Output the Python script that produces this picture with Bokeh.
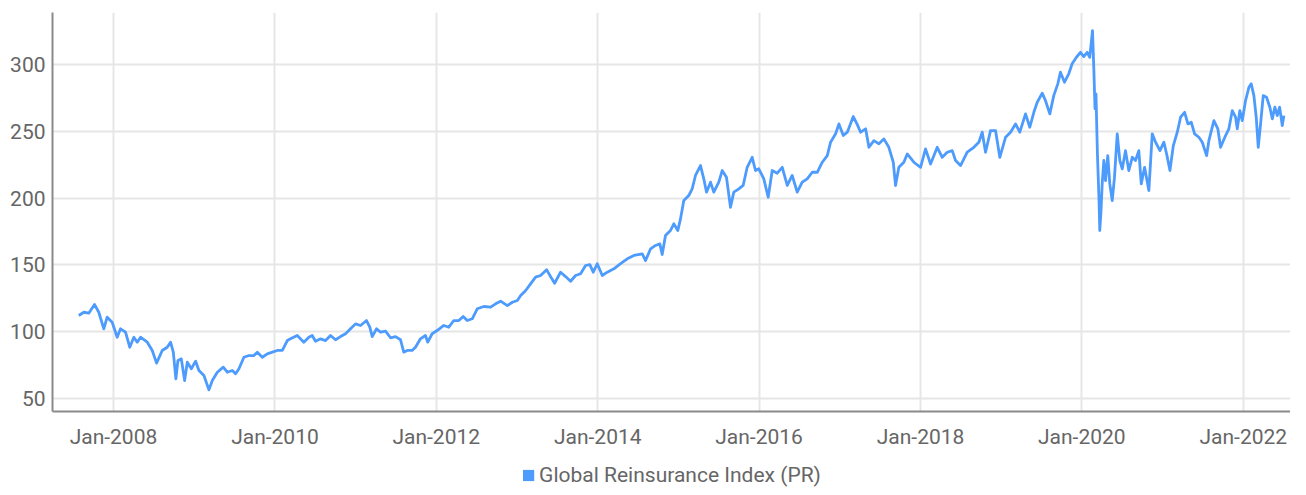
import pandas as pd
from bokeh.plotting import figure
from bokeh.layouts import column
from bokeh.models import (ColumnDataSource, FixedTicker, DatetimeTickFormatter,
                          Legend, LegendItem, Range1d)
from bokeh.embed import file_html
from bokeh.resources import INLINE

# ---------------- data ----------------
series_name = "Global Reinsurance Index (PR)"

years = [
    2007.570, 2007.632, 2007.694, 2007.765, 2007.818, 2007.880, 2007.922, 2007.984,
    2008.046, 2008.087, 2008.149, 2008.202, 2008.252, 2008.294, 2008.335, 2008.418, 2008.480, 2008.533,
    2008.603, 2008.665, 2008.706, 2008.740, 2008.772, 2008.797, 2008.839, 2008.880, 2008.913, 2008.963,
    2009.016, 2009.057, 2009.119, 2009.181, 2009.223, 2009.285, 2009.359, 2009.409, 2009.471, 2009.512,
    2009.553, 2009.615, 2009.677, 2009.739, 2009.781, 2009.843, 2009.905, 2009.967,
    2010.029, 2010.091, 2010.153, 2010.193, 2010.276, 2010.358, 2010.420, 2010.462, 2010.503, 2010.565,
    2010.627, 2010.689, 2010.751, 2010.813, 2010.875, 2010.937, 2010.999,
    2011.061, 2011.135, 2011.176, 2011.206, 2011.259, 2011.309, 2011.371, 2011.433, 2011.495, 2011.557,
    2011.597, 2011.640, 2011.701, 2011.742, 2011.804, 2011.866, 2011.895, 2011.949,
    2012.011, 2012.093, 2012.155, 2012.217, 2012.279, 2012.333, 2012.383, 2012.445, 2012.507, 2012.589,
    2012.672, 2012.734, 2012.796, 2012.879, 2012.941,
    2013.003, 2013.044, 2013.106, 2013.167, 2013.229, 2013.291, 2013.366, 2013.415, 2013.465, 2013.539,
    2013.601, 2013.663, 2013.725, 2013.787, 2013.849, 2013.902, 2013.944, 2013.994,
    2014.056, 2014.118, 2014.200, 2014.283, 2014.366, 2014.448, 2014.552, 2014.593, 2014.655, 2014.716,
    2014.770, 2014.799, 2014.840, 2014.902, 2014.943, 2014.993,
    2015.026, 2015.067, 2015.129, 2015.171, 2015.212, 2015.274, 2015.315, 2015.349, 2015.398, 2015.439,
    2015.501, 2015.543, 2015.596, 2015.646, 2015.687, 2015.749, 2015.803, 2015.853, 2015.915, 2015.956,
    2015.997,
    2016.059, 2016.113, 2016.163, 2016.225, 2016.287, 2016.349, 2016.410, 2016.472, 2016.534, 2016.596,
    2016.658, 2016.720, 2016.782, 2016.844, 2016.885, 2016.947, 2016.988,
    2017.042, 2017.092, 2017.166, 2017.216, 2017.257, 2017.319, 2017.360, 2017.422, 2017.484, 2017.545,
    2017.607, 2017.662, 2017.690, 2017.731, 2017.793, 2017.835, 2017.917,
    2018.000, 2018.062, 2018.124, 2018.207, 2018.269, 2018.331, 2018.393, 2018.434, 2018.496, 2018.579,
    2018.661, 2018.723, 2018.765, 2018.806, 2018.868, 2018.930, 2018.983,
    2019.054, 2019.116, 2019.178, 2019.231, 2019.302, 2019.355, 2019.405, 2019.447, 2019.509, 2019.549,
    2019.603, 2019.652, 2019.702, 2019.735, 2019.785, 2019.838, 2019.880, 2019.933, 2019.983,
    2020.024, 2020.066, 2020.098, 2020.132, 2020.150, 2020.163, 2020.175, 2020.193, 2020.212, 2020.222,
    2020.237, 2020.252, 2020.272, 2020.293, 2020.321, 2020.346, 2020.376, 2020.404, 2020.438, 2020.470,
    2020.500, 2020.540, 2020.581, 2020.624, 2020.664, 2020.705, 2020.735, 2020.776, 2020.829, 2020.871,
    2020.912, 2020.966,
    2021.015, 2021.049, 2021.090, 2021.132, 2021.181, 2021.222, 2021.272, 2021.313, 2021.355, 2021.396,
    2021.449, 2021.491, 2021.545, 2021.573, 2021.635, 2021.684, 2021.718, 2021.780, 2021.821, 2021.863,
    2021.904, 2021.925, 2021.957, 2021.987,
    2022.028, 2022.069, 2022.098, 2022.131, 2022.160, 2022.185, 2022.214, 2022.247, 2022.288, 2022.329,
    2022.359, 2022.391, 2022.421, 2022.450, 2022.483, 2022.503,
]

index_values = [
    112.2, 114.6, 113.9, 120.4, 114.6, 102.2, 110.9, 107.1,
    95.9, 102.2, 99.7, 88.4, 95.9, 92.2, 95.9, 92.2, 86.0, 76.5,
    86.0, 88.4, 92.2, 84.7, 64.7, 78.5, 79.7, 63.5, 77.2, 72.3,
    78.0, 71.0, 67.2, 56.5, 63.5, 69.7, 73.5, 69.7, 71.0, 68.5,
    72.3, 80.9, 82.2, 82.2, 84.7, 80.9, 83.5, 84.7,
    86.0, 86.0, 93.4, 94.7, 97.2, 92.2, 95.9, 97.2, 92.9, 94.7,
    93.4, 97.2, 94.0, 96.4, 98.5, 102.2, 105.9,
    104.7, 108.4, 103.4, 96.4, 102.2, 99.7, 100.4, 95.5, 96.4, 94.0,
    84.7, 86.0, 86.0, 88.4, 94.7, 97.2, 92.2, 98.5,
    100.9, 104.7, 103.4, 108.4, 108.4, 111.4, 108.4, 109.7, 117.2, 118.9,
    118.4, 120.9, 122.9, 119.6, 122.1,
    123.4, 127.1, 130.9, 135.9, 140.9, 142.1, 146.4, 141.3, 136.3, 144.6,
    141.3, 137.8, 142.1, 143.4, 149.6, 150.3, 144.6, 150.9,
    142.1, 144.6, 147.1, 151.0, 154.6, 157.1, 158.3, 153.3, 162.1, 164.6,
    165.8, 157.8, 172.0, 175.8, 180.8, 175.8,
    184.5, 198.2, 202.0, 207.0, 217.0, 224.4, 214.5, 204.5, 212.0, 204.5,
    212.0, 220.7, 215.7, 193.2, 204.5, 207.0, 209.5, 223.1, 230.6, 220.7,
    222.0,
    214.5, 200.7, 220.7, 218.7, 223.1, 209.5, 217.0, 204.5, 212.0, 214.5,
    219.4, 219.4, 226.9, 231.9, 241.9, 248.2, 255.6,
    246.9, 249.4, 261.1, 255.1, 249.4, 251.9, 238.1, 243.1, 240.7, 244.4,
    238.1, 226.9, 209.5, 223.1, 226.9, 233.1, 226.9,
    223.1, 236.9, 225.6, 238.1, 230.6, 234.4, 235.6, 228.2, 224.4, 234.4,
    238.1, 241.9, 249.4, 234.4, 250.6, 250.6, 230.6,
    245.6, 249.4, 255.6, 249.4, 263.1, 253.1, 264.3, 271.8, 278.6, 273.1,
    263.1, 276.8, 285.6, 294.3, 286.8, 293.1, 300.6, 305.5, 309.2,
    306.0, 309.2, 305.5, 325.5, 294.0, 267.0, 278.0, 233.0, 200.0, 175.8,
    190.0, 210.7, 228.2, 213.2, 231.9, 210.7, 198.2, 215.7, 248.2, 228.2,
    221.9, 235.6, 220.7, 230.6, 228.2, 235.6, 210.7, 223.1, 205.7, 248.2,
    241.9, 235.6,
    241.9, 233.1, 220.7, 239.4, 249.4, 260.6, 264.3, 255.6, 256.8, 248.2,
    245.6, 241.9, 231.9, 243.1, 258.1, 251.9, 238.1, 246.9, 251.9, 265.6,
    260.6, 251.9, 265.6, 258.1,
    273.1, 283.0, 285.6, 276.8, 260.6, 238.1, 255.6, 276.8, 275.6, 268.1,
    259.4, 268.1, 261.8, 268.1, 254.4, 261.8,
]

x_tick_years = [2008, 2010, 2012, 2014, 2016, 2018, 2020, 2022]
y_ticks = [50, 100, 150, 200, 250, 300]
x_view = [2007.244, 2022.585]
y_view = [40.3, 339.0]

# ---------------- styling ----------------
BLUE = "#4d9bfd"
TEXT = "#666666"
GRID = "#e6e6e6"
AXIS = "#8a8a8a"
FONT = "Roboto"


def to_ts(dec_year):
    yr = int(dec_year)
    start = pd.Timestamp(year=yr, month=1, day=1)
    end = pd.Timestamp(year=yr + 1, month=1, day=1)
    return start + (end - start) * (dec_year - yr)


dates = [to_ts(y) for y in years]
source = ColumnDataSource(data=dict(date=dates, value=index_values))

p = figure(
    width=1290, height=463,
    x_axis_type="datetime",
    x_range=Range1d(to_ts(x_view[0]), to_ts(x_view[1])),
    y_range=Range1d(y_view[0], y_view[1]),
    output_backend="svg", toolbar_location=None,
    min_border_left=52, min_border_right=0, min_border_top=12, min_border_bottom=52,
    background_fill_color="white", border_fill_color="white",
)
p.outline_line_color = None

p.line("date", "value", source=source, line_color=BLUE, line_width=2.8,
       line_join="round")

# axes
x_ticks_ms = [pd.Timestamp(year=y, month=1, day=1).value // 10**6 for y in x_tick_years]
p.xaxis.ticker = FixedTicker(ticks=x_ticks_ms)
fmt = "%b-%Y"
p.xaxis.formatter = DatetimeTickFormatter(
    years=fmt, months=fmt, days=fmt, hours=fmt, hourmin=fmt, minutes=fmt,
    minsec=fmt, seconds=fmt, milliseconds=fmt, microseconds=fmt)
p.yaxis.ticker = FixedTicker(ticks=y_ticks)

for ax in (p.xaxis[0], p.yaxis[0]):
    ax.axis_line_color = AXIS
    ax.axis_line_width = 2
    ax.major_tick_line_color = None
    ax.minor_tick_line_color = None
    ax.major_tick_out = 0
    ax.major_tick_in = 0
    ax.minor_tick_out = 0
    ax.minor_tick_in = 0
    ax.major_label_text_font = FONT
    ax.major_label_text_font_size = "21px"
    ax.major_label_text_color = TEXT
p.xaxis.major_label_standoff = 13
p.yaxis.major_label_standoff = 7

# grid
p.xgrid.grid_line_color = GRID
p.xgrid.grid_line_width = 2
p.ygrid.grid_line_color = GRID
p.ygrid.grid_line_width = 2
p.xgrid.ticker = FixedTicker(ticks=x_ticks_ms)
p.ygrid.ticker = FixedTicker(ticks=y_ticks)

# ---------------- legend strip ----------------
lp = figure(
    width=1290, height=24,
    x_range=Range1d(0, 1), y_range=Range1d(0, 1),
    output_backend="svg", toolbar_location=None,
    x_axis_location=None, y_axis_location=None,
    min_border_left=46, min_border_right=0, min_border_top=0, min_border_bottom=0,
    background_fill_color="white", border_fill_color="white",
)
lp.outline_line_color = None
lp.xgrid.visible = False
lp.ygrid.visible = False
# swatch glyph for the legend (kept outside the strip's visible range)
swatch = lp.quad(left=[5], right=[6], top=[6], bottom=[5], fill_color=BLUE, line_color=None)

legend = Legend(
    items=[LegendItem(label=series_name, renderers=[swatch])],
    location="center", orientation="horizontal",
    glyph_width=14, glyph_height=14, label_standoff=4,
    padding=0, margin=0, spacing=0,
    border_line_color=None, background_fill_alpha=0,
    label_text_font=FONT, label_text_font_size="21px", label_text_color=TEXT,
)
lp.add_layout(legend, "center")

layout = column(p, lp, spacing=0)

open("out.html", "w").write(file_html(layout, INLINE))
